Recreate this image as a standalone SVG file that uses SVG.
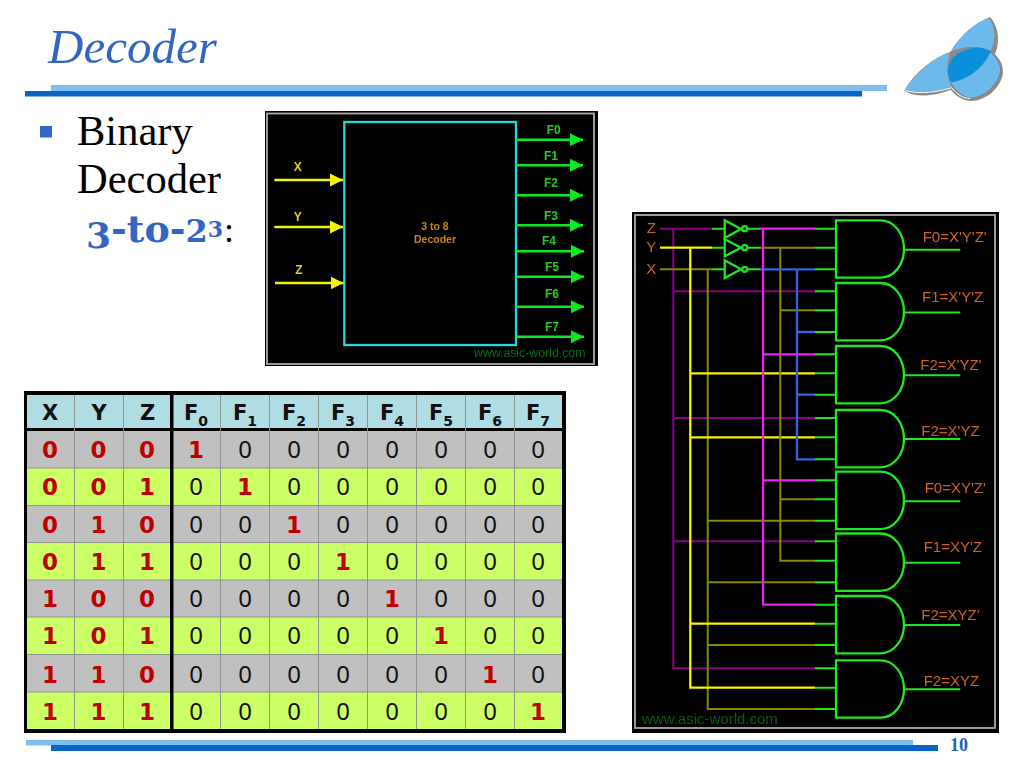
<svg xmlns="http://www.w3.org/2000/svg" xmlns:xlink="http://www.w3.org/1999/xlink" width="1024" height="768" viewBox="0 0 1024 768">
<style>
.ser{font-family:"Liberation Serif","Times New Roman",serif}
.tb{font-family:"Noto Sans","DejaVu Sans",sans-serif;font-size:24px;text-anchor:middle;fill:#111}
.r{font-family:"DejaVu Sans",Verdana,sans-serif;font-weight:bold;fill:#c00000;font-size:23px}
.h{font-family:"DejaVu Sans",Verdana,sans-serif;font-weight:bold;font-size:21px;fill:#111}
.s{font-size:14px}
.ar{font-family:"Liberation Sans",Arial,sans-serif}
.w{fill:none;stroke-linecap:butt}
.g{fill:none;stroke:#22e622;stroke-width:2.300}
.gl{fill:none;stroke:#22e622;stroke-width:2}
.lo{font-family:"Liberation Sans",Arial,sans-serif;font-size:15px;fill:#d0641e}
.li{font-family:"Liberation Sans",Arial,sans-serif;font-size:12px;font-weight:bold;text-anchor:middle}
.ya{fill:none;stroke:#f4f400;stroke-width:2.500}
.ga{fill:none;stroke:#10e820;stroke-width:2.500}
.grid{stroke:#8c968c;stroke-width:1;fill:none}
</style>
<defs>
<filter id="soft" x="-2%" y="-2%" width="104%" height="104%"><feGaussianBlur stdDeviation="0.3"/></filter>
<path id="and" d="M836,0H880C895,0 904,14 904,28.700C904,43 895,57.400 880,57.400H836Z" class="g"/>
<marker id="ay" markerUnits="userSpaceOnUse" markerWidth="14" markerHeight="14" refX="13" refY="7" orient="auto"><path d="M0,0.500L13,7L0,13.500Z" fill="#f4f400"/></marker>
<marker id="ag" markerUnits="userSpaceOnUse" markerWidth="14" markerHeight="14" refX="13" refY="7" orient="auto"><path d="M0,0.500L13,7L0,13.500Z" fill="#10e820"/></marker>
</defs>
<rect width="1024" height="768" fill="#fff"/>

<g id="slide-frame">
<rect x="51" y="85" width="836" height="6" fill="#7fbff0"/>
<rect x="25" y="91" width="837" height="5.500" fill="#0a64c4"/>
<rect x="26" y="740" width="887" height="5.500" fill="#7fbff0"/>
<rect x="51" y="745" width="887" height="6" fill="#0a64c4"/>
<text class="ser" x="950" y="751" font-size="18" font-weight="bold" fill="#1f5fb0">10</text>
</g>

<g id="logo" transform="translate(880,5) scale(0.3333)">
<path d="M72,258C105,200 160,158 212,140C240,90 290,52 330,36C350,58 365,100 345,148C362,165 372,185 368,210C360,250 315,290 270,288C245,285 225,270 212,254C170,272 110,280 72,258Z" fill="#8f8a84"/>
<path d="M75,255C110,200 160,160 210,142C198,180 200,215 215,245C170,260 120,265 75,255Z" fill="#6cb9ec"/>
<path d="M215,140C240,90 285,52 326,40C345,65 350,100 332,138C295,122 250,122 215,140Z" fill="#6cb9ec"/>
<path d="M205,190C210,150 250,126 295,128C332,130 362,165 362,198C354,240 312,278 270,280C235,272 200,235 205,190Z" fill="#6cb9ec" stroke="#777" stroke-width="2"/>
<path d="M205,190C210,152 250,128 295,128C310,130 322,133 333,139C310,190 262,225 215,232C205,220 203,205 205,190Z" fill="#0a8fdc"/>
<path d="M75,257C120,268 170,262 215,248C230,268 250,280 270,281" fill="none" stroke="#fff" stroke-width="3"/>
</g>

<g id="title-text">
<text class="ser" x="48" y="63" font-size="49" font-style="italic" fill="#3366c4">Decoder</text>
<rect x="40" y="126" width="12" height="11.500" fill="#3366cc"/>
<text class="ser" x="77" y="145" font-size="42.500" fill="#000">Binary</text>
<text class="ser" x="77" y="193" font-size="42.500" fill="#000">Decoder</text>
<text x="86" y="242" font-family="'DejaVu Serif',Georgia,serif" font-weight="bold" fill="#3366c4" font-size="38"><tspan font-size="36" dy="6">3</tspan><tspan dy="-6">-to-</tspan><tspan font-size="32">2</tspan><tspan font-size="22" dy="-5">3</tspan></text>
<text class="ser" x="224" y="242" font-size="36" fill="#000">:</text>
</g>

<g id="decoder-block" filter="url(#soft)">
<rect x="265" y="111" width="333" height="255" fill="#000"/>
<rect x="267" y="113.500" width="327" height="250.500" fill="none" stroke="#aaa" stroke-width="1.800"/>
<rect x="344.300" y="122" width="171.700" height="223" fill="none" stroke="#22d8d8" stroke-width="2.300"/>
<text x="435" y="229.700" text-anchor="middle" class="ar" font-size="10.500" font-weight="bold" fill="#c8821e">3 to 8</text>
<text x="435" y="243" text-anchor="middle" class="ar" font-size="10.500" font-weight="bold" fill="#c8821e">Decoder</text>
<text x="474" y="357" class="ar" font-size="12.300" fill="#0a6a1a">www.asic-world.com</text>
<g id="block-connectors">
<path class="ya" marker-end="url(#ay)" d="M274.300,180H343"/>
<path class="ya" marker-end="url(#ay)" d="M274.300,227H343"/>
<path class="ya" marker-end="url(#ay)" d="M275,283H343.500"/>
<path class="ga" marker-end="url(#ag)" d="M516,139.700H583"/>
<path class="ga" marker-end="url(#ag)" d="M516,165.300H583"/>
<path class="ga" marker-end="url(#ag)" d="M516,195.300H583"/>
<path class="ga" marker-end="url(#ag)" d="M516,225.300H583"/>
<path class="ga" marker-end="url(#ag)" d="M516,251.300H584"/>
<path class="ga" marker-end="url(#ag)" d="M516,276.700H584"/>
<path class="ga" marker-end="url(#ag)" d="M516,306.700H584"/>
<path class="ga" marker-end="url(#ag)" d="M516,336.700H584"/>
</g>
<text class="li" x="297.700" y="170.700" fill="#e0d020">X</text>
<text class="li" x="297.700" y="221" fill="#e0d020">Y</text>
<text class="li" x="299" y="273.700" fill="#e0d020">Z</text>
<text class="li" x="553.700" y="134" fill="#22cc22">F0</text>
<text class="li" x="551" y="160" fill="#22cc22">F1</text>
<text class="li" x="551" y="187" fill="#22cc22">F2</text>
<text class="li" x="551" y="219.700" fill="#22cc22">F3</text>
<text class="li" x="549" y="245" fill="#22cc22">F4</text>
<text class="li" x="552" y="271" fill="#22cc22">F5</text>
<text class="li" x="552" y="298" fill="#22cc22">F6</text>
<text class="li" x="552" y="330.700" fill="#22cc22">F7</text>
</g>

<g id="circuit" filter="url(#soft)">
<rect x="632" y="212" width="367" height="521" fill="#000"/>
<rect x="635" y="215" width="360" height="513" fill="none" stroke="#aaa" stroke-width="1.800"/>
<text class="lo" x="651.300" y="233" text-anchor="middle">Z</text>
<text class="lo" x="651.300" y="252" text-anchor="middle">Y</text>
<text class="lo" x="651.300" y="273.700" text-anchor="middle">X</text>
<text x="642" y="724" class="ar" font-size="15" fill="#0a5a14">www.asic-world.com</text>
<g id="connectors">
<path class="w" stroke="#8a008a" stroke-width="2" d="M660,228.700H712M673.300,228.700V668.300H815M673.300,291.300H815M673.300,418H815M673.300,541.300H815"/>
<path class="w" stroke="#868600" stroke-width="2" d="M660,269.300H712M707.700,269.300V709H815M707.700,520.700H815M707.700,582.300H815M707.700,645H815"/>
<path class="w" stroke="#f4f400" stroke-width="2.300" d="M660,247.700H712M690.300,247.700V687.700H815M690.300,373.300H815M690.300,437.300H815M690.300,623.700H815"/>
<path class="w" stroke="#868600" stroke-width="2" d="M760,247.700H815M780.300,247.700V560.700H815M780.300,310.300H815M780.300,499.300H815"/>
<path class="w" stroke="#3366dd" stroke-width="2.300" d="M760,269.300H815M797,269.300V459.300H815M797,332H815M797,394.700H815"/>
<path class="w" stroke="#ee20ee" stroke-width="2.300" d="M760,228.700H815M763,228.700V604.700H815M763,354.300H815M763,480.300H815"/>
<path class="gl" d="M712,228.700H725M712,247.700H725M712,269.300H725M748,228.700H760M748,247.700H760M748,269.300H760"/>
<path class="gl" d="M815,228.700H836M815,247.700H836M815,269.300H836M815,291.300H836M815,310.300H836M815,332H836M815,354.300H836M815,373.300H836M815,394.700H836M815,418H836M815,437.300H836M815,459.300H836M815,480.300H836M815,499.300H836M815,520.700H836M815,541.300H836M815,560.700H836M815,582.300H836M815,604.700H836M815,623.700H836M815,645H836M815,668.300H836M815,687.700H836M815,709H836"/>
<path class="gl" d="M904,249.700H960.300M904,312.500H960.300M904,375.300H960.300M904,439H960.300M904,501.300H960.300M904,562.700H960.300M904,625H960.300M904,689.300H960.300"/>
</g>
<g id="inv-z"><path class="g" d="M724.700,220.300L741,229L724.700,238Z"/><circle class="g" cx="744.700" cy="228.700" r="2.500"/></g>
<g id="inv-y"><path class="g" d="M724.700,239.300L741,247.700L724.700,256.300Z"/><circle class="g" cx="744.700" cy="247.700" r="2.500"/></g>
<g id="inv-x"><path class="g" d="M724.700,260.300L741,269.300L724.700,278Z"/><circle class="g" cx="744.700" cy="269.300" r="2.500"/></g>
<g id="gate-0"><use xlink:href="#and" href="#and" y="220.300"/><text class="lo" x="922.700" y="242">F0=X'Y'Z'</text></g>
<g id="gate-1"><use xlink:href="#and" href="#and" y="283"/><text class="lo" x="922" y="302">F1=X'Y'Z</text></g>
<g id="gate-2"><use xlink:href="#and" href="#and" y="346"/><text class="lo" x="920.300" y="369.700">F2=X'YZ'</text></g>
<g id="gate-3"><use xlink:href="#and" href="#and" y="410"/><text class="lo" x="921.300" y="436">F2=X'YZ</text></g>
<g id="gate-4"><use xlink:href="#and" href="#and" y="471.700"/><text class="lo" x="924.700" y="493.300">F0=XY'Z'</text></g>
<g id="gate-5"><use xlink:href="#and" href="#and" y="533.500"/><text class="lo" x="923.700" y="551.700">F1=XY'Z</text></g>
<g id="gate-6"><use xlink:href="#and" href="#and" y="596"/><text class="lo" x="921.300" y="620">F2=XYZ'</text></g>
<g id="gate-7"><use xlink:href="#and" href="#and" y="660.300"/><text class="lo" x="923.700" y="686">F2=XYZ</text></g>
</g>

<g id="truth-table">
<rect x="24" y="391" width="542" height="342" fill="#000"/>
<rect x="27" y="395" width="535" height="33" fill="#b0dde4"/>
<rect x="27" y="431" width="535" height="37" fill="#c0c0c0"/>
<rect x="27" y="468" width="535" height="37.400" fill="#ccff66"/>
<rect x="27" y="505.400" width="535" height="37.200" fill="#c0c0c0"/>
<rect x="27" y="542.600" width="535" height="37.400" fill="#ccff66"/>
<rect x="27" y="580" width="535" height="37" fill="#c0c0c0"/>
<rect x="27" y="617" width="535" height="37.600" fill="#ccff66"/>
<rect x="27" y="654.600" width="535" height="37.400" fill="#c0c0c0"/>
<rect x="27" y="692" width="535" height="37" fill="#ccff66"/>
<path class="grid" d="M74.500,395V729M123.500,395V729M220.500,395V729M269.500,395V729M318.500,395V729M367.500,395V729M416.500,395V729M465.500,395V729M514.500,395V729M27,468H562M27,505.500H562M27,542.500H562M27,580H562M27,617H562M27,654.500H562M27,692H562"/>
<rect x="170" y="391" width="3.500" height="342" fill="#000"/>
<g class="tb">
<text class="h" x="50" y="420">X</text><text class="h" x="99" y="420">Y</text><text class="h" x="147.500" y="420">Z</text>
<text class="h" x="196" y="420">F<tspan class="s" dy="6">0</tspan></text><text class="h" x="245" y="420">F<tspan class="s" dy="6">1</tspan></text><text class="h" x="294" y="420">F<tspan class="s" dy="6">2</tspan></text><text class="h" x="343" y="420">F<tspan class="s" dy="6">3</tspan></text><text class="h" x="392" y="420">F<tspan class="s" dy="6">4</tspan></text><text class="h" x="441" y="420">F<tspan class="s" dy="6">5</tspan></text><text class="h" x="490" y="420">F<tspan class="s" dy="6">6</tspan></text><text class="h" x="538" y="420">F<tspan class="s" dy="6">7</tspan></text>

<text class="r" x="50" y="458">0</text><text class="r" x="98.500" y="458">0</text><text class="r" x="147" y="458">0</text><text class="r" x="196" y="458">1</text><text x="245" y="458">0</text><text x="294" y="458">0</text><text x="343" y="458">0</text><text x="392" y="458">0</text><text x="441" y="458">0</text><text x="490" y="458">0</text><text x="538" y="458">0</text>

<text class="r" x="50" y="495">0</text><text class="r" x="98.500" y="495">0</text><text class="r" x="147" y="495">1</text><text x="196" y="495">0</text><text class="r" x="245" y="495">1</text><text x="294" y="495">0</text><text x="343" y="495">0</text><text x="392" y="495">0</text><text x="441" y="495">0</text><text x="490" y="495">0</text><text x="538" y="495">0</text>

<text class="r" x="50" y="532.500">0</text><text class="r" x="98.500" y="532.500">1</text><text class="r" x="147" y="532.500">0</text><text x="196" y="532.500">0</text><text x="245" y="532.500">0</text><text class="r" x="294" y="532.500">1</text><text x="343" y="532.500">0</text><text x="392" y="532.500">0</text><text x="441" y="532.500">0</text><text x="490" y="532.500">0</text><text x="538" y="532.500">0</text>

<text class="r" x="50" y="569.500">0</text><text class="r" x="98.500" y="569.500">1</text><text class="r" x="147" y="569.500">1</text><text x="196" y="569.500">0</text><text x="245" y="569.500">0</text><text x="294" y="569.500">0</text><text class="r" x="343" y="569.500">1</text><text x="392" y="569.500">0</text><text x="441" y="569.500">0</text><text x="490" y="569.500">0</text><text x="538" y="569.500">0</text>

<text class="r" x="50" y="607">1</text><text class="r" x="98.500" y="607">0</text><text class="r" x="147" y="607">0</text><text x="196" y="607">0</text><text x="245" y="607">0</text><text x="294" y="607">0</text><text x="343" y="607">0</text><text class="r" x="392" y="607">1</text><text x="441" y="607">0</text><text x="490" y="607">0</text><text x="538" y="607">0</text>

<text class="r" x="50" y="644">1</text><text class="r" x="98.500" y="644">0</text><text class="r" x="147" y="644">1</text><text x="196" y="644">0</text><text x="245" y="644">0</text><text x="294" y="644">0</text><text x="343" y="644">0</text><text x="392" y="644">0</text><text class="r" x="441" y="644">1</text><text x="490" y="644">0</text><text x="538" y="644">0</text>

<text class="r" x="50" y="683">1</text><text class="r" x="98.500" y="683">1</text><text class="r" x="147" y="683">0</text><text x="196" y="683">0</text><text x="245" y="683">0</text><text x="294" y="683">0</text><text x="343" y="683">0</text><text x="392" y="683">0</text><text x="441" y="683">0</text><text class="r" x="490" y="683">1</text><text x="538" y="683">0</text>

<text class="r" x="50" y="720">1</text><text class="r" x="98.500" y="720">1</text><text class="r" x="147" y="720">1</text><text x="196" y="720">0</text><text x="245" y="720">0</text><text x="294" y="720">0</text><text x="343" y="720">0</text><text x="392" y="720">0</text><text x="441" y="720">0</text><text x="490" y="720">0</text><text class="r" x="538" y="720">1</text>
</g>
</g>
</svg>
